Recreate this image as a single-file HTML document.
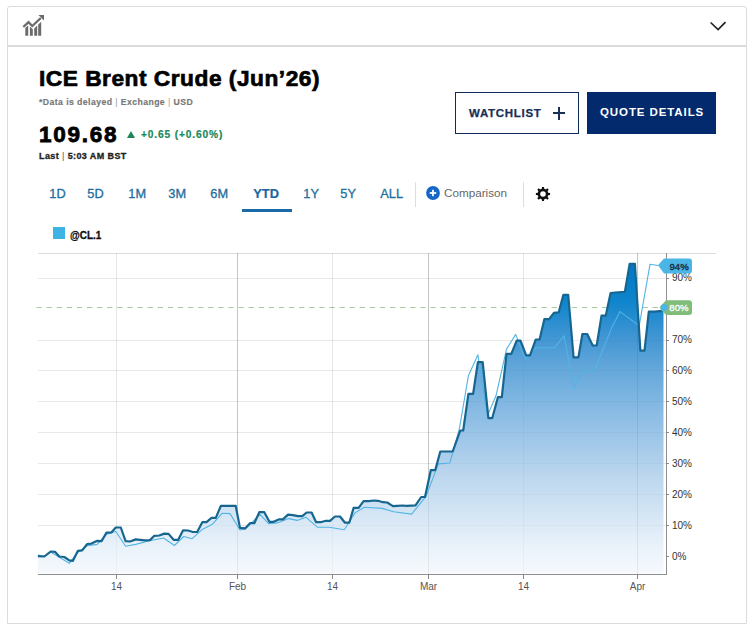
<!DOCTYPE html>
<html><head><meta charset="utf-8">
<style>
*{margin:0;padding:0;box-sizing:border-box}
html,body{width:753px;height:629px;overflow:hidden;background:#fff;font-family:"Liberation Sans",sans-serif}
.card{position:absolute;left:7px;top:6px;width:740px;height:618px;border:1px solid #dcdcdc;border-radius:3px 3px 0 0}
.hdiv{position:absolute;left:8px;top:45px;width:738px;height:2px;background:#dadada}
.abs{position:absolute;white-space:nowrap}
.title{-webkit-text-stroke:0.7px #000;left:39px;top:64.6px;font-size:22.7px;font-weight:bold;color:#000;letter-spacing:0.52px}
.sub{-webkit-text-stroke:0.15px #777;left:39px;top:97px;font-size:8.7px;font-weight:bold;color:#777;letter-spacing:0.42px}
.price{-webkit-text-stroke:0.8px #000;left:39px;top:122px;font-size:22.5px;font-weight:bold;color:#000;letter-spacing:1.75px}
.chg{-webkit-text-stroke:0.2px #1b875a;left:141px;top:129px;font-size:10.2px;font-weight:bold;color:#1b875a;letter-spacing:0.85px}
.tri{left:127px;top:131px;width:0;height:0;border-left:4.5px solid transparent;border-right:4.5px solid transparent;border-bottom:7px solid #1c8659}
.last{-webkit-text-stroke:0.3px #222;left:39px;top:151px;font-size:9px;font-weight:bold;color:#222;letter-spacing:0.4px}
.btn1{left:455px;top:92px;width:124px;height:42px;border:1px solid #0c2b5b}
.btn1 span{position:absolute;left:13px;top:14px;font-size:11.5px;font-weight:bold;color:#1a2f55;letter-spacing:0.7px;-webkit-text-stroke:0.25px #1a2f55}
.plus1{left:553px;top:112px;width:12px;height:2.4px;background:#1a2f55}
.plus2{left:557.8px;top:107px;width:2.4px;height:13px;background:#1a2f55}
.btn2{left:587px;top:92px;width:129px;height:42px;background:#032a6c}
.btn2 span{position:absolute;left:13px;top:14px;font-size:11.5px;font-weight:bold;color:#fff;letter-spacing:0.9px}
.tab{top:186px;margin-left:-0.7px;font-size:12.8px;color:#216e9c;-webkit-text-stroke:0.3px #216e9c}
.ytd{font-weight:bold;color:#1a659e;-webkit-text-stroke:0.2px #1a659e}
.uline{left:242px;top:209px;width:50px;height:3px;background:#1a6aa8}
.sep{top:182px;width:1px;height:25px;background:#dedede}
.cmp{left:444px;top:186px;font-size:11.7px;color:#666}
.leg{left:53px;top:227px;width:12px;height:12px;background:#3db4e4}
.legt{left:70px;top:229.5px;font-size:10px;font-weight:bold;color:#111;-webkit-text-stroke:0.3px #111}
.chart{position:absolute;left:0;top:0}
.bar{font-weight:normal;color:#999;-webkit-text-stroke:0}
.bar2{font-weight:normal;color:#555;-webkit-text-stroke:0}
</style></head><body>
<div class="card"></div>
<div class="hdiv"></div>
<svg class="abs" style="left:0;top:0" width="753" height="50" viewBox="0 0 753 50">
<g fill="#6b6b6b">
<polygon points="25.3,27.9 28.2,25.2 28.2,35.8 25.3,35.8"/>
<polygon points="29.9,26.4 32.8,29.2 32.8,35.8 29.9,35.8"/>
<polygon points="34.2,28.4 37.2,25.6 37.2,35.8 34.2,35.8"/>
<polygon points="38.2,24.6 41.2,21.8 41.2,35.8 38.2,35.8"/>
</g>
<polyline points="23.3,27 28.5,22.2 32.3,26 40.8,18" fill="none" stroke="#6b6b6b" stroke-width="2.3"/>
<polygon points="38.4,15 44,15 44,20.6" fill="#6b6b6b"/>
<polyline points="710.6,22.5 718.1,29.6 725.5,22.2" fill="none" stroke="#222" stroke-width="1.7"/>
</svg>
<div class="abs title">ICE Brent Crude (Jun’26)</div>
<div class="abs sub">*Data is delayed <span class="bar">|</span> Exchange <span class="bar">|</span> USD</div>
<div class="abs price">109.68</div>
<div class="abs tri"></div>
<div class="abs chg">+0.65 (+0.60%)</div>
<div class="abs last">Last <span class="bar2">|</span> 5:03 AM BST</div>
<div class="abs btn1"><span>WATCHLIST</span></div>
<div class="abs plus1"></div><div class="abs plus2"></div>
<div class="abs btn2"><span>QUOTE DETAILS</span></div>
<div class="abs tab" style="left:50px">1D</div>
<div class="abs tab" style="left:88px">5D</div>
<div class="abs tab" style="left:129px">1M</div>
<div class="abs tab" style="left:169px">3M</div>
<div class="abs tab" style="left:211px">6M</div>
<div class="abs tab ytd" style="left:254px">YTD</div>
<div class="abs tab" style="left:304px">1Y</div>
<div class="abs tab" style="left:341px">5Y</div>
<div class="abs tab" style="left:381px">ALL</div>
<div class="abs uline"></div>
<div class="abs sep" style="left:415px"></div>
<svg class="abs" style="left:425px;top:185px" width="16" height="16" viewBox="0 0 16 16"><circle cx="8" cy="8" r="6.9" fill="#1768c6"/><rect x="4.8" y="7.1" width="6.4" height="1.8" fill="#fff"/><rect x="7.1" y="4.8" width="1.8" height="6.4" fill="#fff"/></svg>
<div class="abs cmp">Comparison</div>
<div class="abs sep" style="left:523px"></div>
<svg class="abs" style="left:535px;top:185.8px" width="16" height="16" viewBox="0 0 16 16">
<g transform="translate(8,8)">
<circle r="4.1" fill="none" stroke="#111" stroke-width="2.6"/>
<g fill="#111">
<polygon points="-1.3,-4.5 1.3,-4.5 1.0,-7.1 -1.0,-7.1"/>
<polygon points="-1.3,-4.5 1.3,-4.5 1.0,-7.1 -1.0,-7.1" transform="rotate(45)"/>
<polygon points="-1.3,-4.5 1.3,-4.5 1.0,-7.1 -1.0,-7.1" transform="rotate(90)"/>
<polygon points="-1.3,-4.5 1.3,-4.5 1.0,-7.1 -1.0,-7.1" transform="rotate(135)"/>
<polygon points="-1.3,-4.5 1.3,-4.5 1.0,-7.1 -1.0,-7.1" transform="rotate(180)"/>
<polygon points="-1.3,-4.5 1.3,-4.5 1.0,-7.1 -1.0,-7.1" transform="rotate(225)"/>
<polygon points="-1.3,-4.5 1.3,-4.5 1.0,-7.1 -1.0,-7.1" transform="rotate(270)"/>
<polygon points="-1.3,-4.5 1.3,-4.5 1.0,-7.1 -1.0,-7.1" transform="rotate(315)"/>
</g></g></svg>
<div class="abs leg"></div>
<div class="abs legt">@CL.1</div>
<svg class="chart" width="753" height="629" viewBox="0 0 753 629">
<defs><linearGradient id="g" gradientUnits="userSpaceOnUse" x1="0" y1="264" x2="0" y2="574">
<stop offset="0" stop-color="rgb(5,118,198)"/>
<stop offset="0.116" stop-color="rgb(13,132,204)"/>
<stop offset="0.239" stop-color="rgb(66,150,212)"/>
<stop offset="0.342" stop-color="rgb(101,168,218)"/>
<stop offset="0.461" stop-color="rgb(133,185,227)"/>
<stop offset="0.687" stop-color="rgb(188,215,238)"/>
<stop offset="0.913" stop-color="rgb(234,242,250)"/>
<stop offset="1" stop-color="rgb(246,249,253)"/>
</linearGradient></defs>
<line x1="38" y1="253.5" x2="716" y2="253.5" stroke="#dcdcdc" stroke-width="1"/>
<line x1="36.5" y1="307.5" x2="663" y2="307.5" stroke="#a6cc9e" stroke-width="1" stroke-dasharray="5.3,4.8"/>
<line x1="38" y1="278.5" x2="666" y2="278.5" stroke="#000" stroke-opacity="0.06" stroke-width="1"/><line x1="38" y1="340.5" x2="666" y2="340.5" stroke="#000" stroke-opacity="0.06" stroke-width="1"/><line x1="38" y1="370.5" x2="666" y2="370.5" stroke="#000" stroke-opacity="0.06" stroke-width="1"/><line x1="38" y1="401.5" x2="666" y2="401.5" stroke="#000" stroke-opacity="0.06" stroke-width="1"/><line x1="38" y1="432.5" x2="666" y2="432.5" stroke="#000" stroke-opacity="0.06" stroke-width="1"/><line x1="38" y1="463.5" x2="666" y2="463.5" stroke="#000" stroke-opacity="0.06" stroke-width="1"/><line x1="38" y1="494.5" x2="666" y2="494.5" stroke="#000" stroke-opacity="0.06" stroke-width="1"/><line x1="38" y1="525.5" x2="666" y2="525.5" stroke="#000" stroke-opacity="0.06" stroke-width="1"/><line x1="116.5" y1="253" x2="116.5" y2="574" stroke="#000" stroke-opacity="0.07" stroke-width="1"/><line x1="237.5" y1="253" x2="237.5" y2="574" stroke="#000" stroke-opacity="0.17" stroke-width="1"/><line x1="332.5" y1="253" x2="332.5" y2="574" stroke="#000" stroke-opacity="0.07" stroke-width="1"/><line x1="428.5" y1="253" x2="428.5" y2="574" stroke="#000" stroke-opacity="0.17" stroke-width="1"/><line x1="523.5" y1="253" x2="523.5" y2="574" stroke="#000" stroke-opacity="0.07" stroke-width="1"/><line x1="637.5" y1="253" x2="637.5" y2="574" stroke="#000" stroke-opacity="0.17" stroke-width="1"/>
<path d="M37.9,573.5 L37.9,556.1 L44.3,556.5 L50.7,551.5 L55.0,551.8 L59.3,556.5 L64.3,557.0 L69.3,560.4 L72.9,560.8 L77.9,550.8 L82.2,550.4 L87.2,544.0 L91.5,543.6 L97.2,540.8 L101.5,541.2 L106.5,532.6 L111.5,532.3 L115.8,527.5 L120.8,527.5 L125.6,541.2 L130.0,541.5 L135.7,539.4 L140.0,539.8 L145.0,540.4 L150.0,540.1 L154.3,535.8 L159.3,535.5 L164.3,533.6 L168.6,533.9 L173.6,539.8 L178.2,539.8 L183.0,530.4 L188.0,530.5 L192.2,531.8 L197.2,532.0 L202.3,522.2 L206.5,522.2 L211.5,517.9 L215.8,517.9 L220.9,505.8 L235.7,505.8 L240.0,527.9 L245.0,528.4 L250.0,523.2 L254.3,523.2 L259.3,512.2 L264.3,512.2 L269.4,521.8 L273.6,521.8 L278.7,519.4 L282.9,519.4 L288.0,514.6 L293.0,515.1 L298.0,516.1 L302.3,516.1 L306.6,512.5 L311.6,512.5 L316.1,522.2 L320.7,522.2 L325.7,520.8 L330.0,520.8 L335.0,516.5 L340.0,516.5 L345.0,522.7 L349.3,522.7 L353.6,507.9 L358.6,507.9 L363.6,501.2 L368.6,501.2 L373.7,500.5 L378.0,500.8 L383.0,502.2 L387.2,502.5 L393.0,506.1 L397.3,505.8 L402.3,505.5 L406.6,505.8 L415.5,505.3 L421.2,497.0 L425.0,497.0 L430.8,470.2 L435.2,470.2 L440.3,451.5 L452.7,451.5 L460.3,430.5 L463.2,430.5 L468.4,393.9 L473.1,393.9 L477.9,362.1 L482.7,362.1 L488.4,418.2 L492.2,418.2 L497.9,397.2 L501.8,397.2 L506.5,353.9 L511.3,353.9 L516.7,340.7 L520.5,340.7 L526.2,355.4 L530.0,355.4 L535.8,339.5 L539.6,339.5 L544.4,319.1 L549.1,319.1 L553.9,312.8 L558.7,312.4 L563.4,294.9 L568.2,294.9 L573.6,357.4 L578.4,357.4 L582.4,334.0 L587.2,334.0 L592.7,345.5 L596.7,345.5 L601.5,315.6 L605.8,315.6 L610.6,293.0 L615.3,292.5 L624.9,291.8 L629.7,263.8 L634.9,263.8 L640.4,350.7 L644.5,350.7 L648.8,311.6 L654.7,311.6 L661.9,310.9 L663.5,310.9 L663.5,573.5 Z" fill="url(#g)"/>
<g opacity="0.4"><line x1="38" y1="278.5" x2="666" y2="278.5" stroke="#000" stroke-opacity="0.06" stroke-width="1"/><line x1="38" y1="340.5" x2="666" y2="340.5" stroke="#000" stroke-opacity="0.06" stroke-width="1"/><line x1="38" y1="370.5" x2="666" y2="370.5" stroke="#000" stroke-opacity="0.06" stroke-width="1"/><line x1="38" y1="401.5" x2="666" y2="401.5" stroke="#000" stroke-opacity="0.06" stroke-width="1"/><line x1="38" y1="432.5" x2="666" y2="432.5" stroke="#000" stroke-opacity="0.06" stroke-width="1"/><line x1="38" y1="463.5" x2="666" y2="463.5" stroke="#000" stroke-opacity="0.06" stroke-width="1"/><line x1="38" y1="494.5" x2="666" y2="494.5" stroke="#000" stroke-opacity="0.06" stroke-width="1"/><line x1="38" y1="525.5" x2="666" y2="525.5" stroke="#000" stroke-opacity="0.06" stroke-width="1"/><line x1="116.5" y1="253" x2="116.5" y2="574" stroke="#000" stroke-opacity="0.07" stroke-width="1"/><line x1="237.5" y1="253" x2="237.5" y2="574" stroke="#000" stroke-opacity="0.17" stroke-width="1"/><line x1="332.5" y1="253" x2="332.5" y2="574" stroke="#000" stroke-opacity="0.07" stroke-width="1"/><line x1="428.5" y1="253" x2="428.5" y2="574" stroke="#000" stroke-opacity="0.17" stroke-width="1"/><line x1="523.5" y1="253" x2="523.5" y2="574" stroke="#000" stroke-opacity="0.07" stroke-width="1"/><line x1="637.5" y1="253" x2="637.5" y2="574" stroke="#000" stroke-opacity="0.17" stroke-width="1"/></g>
<polyline points="37.9,555.0 44.3,556.5 50.7,552.0 69.3,563.3 77.9,552.2 87.2,545.8 97.2,544.4 106.5,534.3 115.8,531.5 125.6,546.2 135.7,544.4 149.3,540.8 163.6,538.0 174.4,545.5 183.7,536.5 192.2,538.7 202.3,529.4 212.3,524.3 222.3,513.2 230.0,513.6 240.0,530.0 245.8,528.7 260.0,514.3 268.6,523.6 277.2,522.9 288.7,518.6 297.3,520.4 305.8,517.2 317.3,527.2 329.3,527.2 344.3,529.8 355.0,512.9 364.4,507.2 382.2,508.4 393.7,511.8 411.6,514.1 426.0,496.4 438.4,463.9 449.8,463.0 459.4,428.6 468.4,375.8 477.9,354.8 487.4,415.9 496.0,395.8 506.5,349.1 515.7,334.4 525.3,359.2 535.8,347.7 554.8,347.7 564.0,335.9 574.2,388.7 581.8,370.9 593.9,371.7 611.8,327.6 620.1,311.6 639.2,325.9 650.0,264.3 658.3,265.5" fill="none" stroke="#52b4e4" stroke-width="1.1" stroke-linejoin="round"/>
<polyline points="37.9,556.1 44.3,556.5 50.7,551.5 55.0,551.8 59.3,556.5 64.3,557.0 69.3,560.4 72.9,560.8 77.9,550.8 82.2,550.4 87.2,544.0 91.5,543.6 97.2,540.8 101.5,541.2 106.5,532.6 111.5,532.3 115.8,527.5 120.8,527.5 125.6,541.2 130.0,541.5 135.7,539.4 140.0,539.8 145.0,540.4 150.0,540.1 154.3,535.8 159.3,535.5 164.3,533.6 168.6,533.9 173.6,539.8 178.2,539.8 183.0,530.4 188.0,530.5 192.2,531.8 197.2,532.0 202.3,522.2 206.5,522.2 211.5,517.9 215.8,517.9 220.9,505.8 235.7,505.8 240.0,527.9 245.0,528.4 250.0,523.2 254.3,523.2 259.3,512.2 264.3,512.2 269.4,521.8 273.6,521.8 278.7,519.4 282.9,519.4 288.0,514.6 293.0,515.1 298.0,516.1 302.3,516.1 306.6,512.5 311.6,512.5 316.1,522.2 320.7,522.2 325.7,520.8 330.0,520.8 335.0,516.5 340.0,516.5 345.0,522.7 349.3,522.7 353.6,507.9 358.6,507.9 363.6,501.2 368.6,501.2 373.7,500.5 378.0,500.8 383.0,502.2 387.2,502.5 393.0,506.1 397.3,505.8 402.3,505.5 406.6,505.8 415.5,505.3 421.2,497.0 425.0,497.0 430.8,470.2 435.2,470.2 440.3,451.5 452.7,451.5 460.3,430.5 463.2,430.5 468.4,393.9 473.1,393.9 477.9,362.1 482.7,362.1 488.4,418.2 492.2,418.2 497.9,397.2 501.8,397.2 506.5,353.9 511.3,353.9 516.7,340.7 520.5,340.7 526.2,355.4 530.0,355.4 535.8,339.5 539.6,339.5 544.4,319.1 549.1,319.1 553.9,312.8 558.7,312.4 563.4,294.9 568.2,294.9 573.6,357.4 578.4,357.4 582.4,334.0 587.2,334.0 592.7,345.5 596.7,345.5 601.5,315.6 605.8,315.6 610.6,293.0 615.3,292.5 624.9,291.8 629.7,263.8 634.9,263.8 640.4,350.7 644.5,350.7 648.8,311.6 654.7,311.6 661.9,310.9" fill="none" stroke="#17668f" stroke-width="2.2" stroke-linejoin="round"/>
<line x1="38" y1="574.5" x2="667" y2="574.5" stroke="#8f8f8f" stroke-width="1"/>
<line x1="666.5" y1="253" x2="666.5" y2="575" stroke="#8f8f8f" stroke-width="1"/>
<line x1="666" y1="278.5" x2="669" y2="278.5" stroke="#888" stroke-width="1"/><line x1="666" y1="309.5" x2="669" y2="309.5" stroke="#888" stroke-width="1"/><line x1="666" y1="340.5" x2="669" y2="340.5" stroke="#888" stroke-width="1"/><line x1="666" y1="370.5" x2="669" y2="370.5" stroke="#888" stroke-width="1"/><line x1="666" y1="401.5" x2="669" y2="401.5" stroke="#888" stroke-width="1"/><line x1="666" y1="432.5" x2="669" y2="432.5" stroke="#888" stroke-width="1"/><line x1="666" y1="463.5" x2="669" y2="463.5" stroke="#888" stroke-width="1"/><line x1="666" y1="494.5" x2="669" y2="494.5" stroke="#888" stroke-width="1"/><line x1="666" y1="525.5" x2="669" y2="525.5" stroke="#888" stroke-width="1"/><line x1="666" y1="556.5" x2="669" y2="556.5" stroke="#888" stroke-width="1"/><line x1="116.5" y1="574" x2="116.5" y2="579" stroke="#888" stroke-width="1"/><line x1="237.5" y1="574" x2="237.5" y2="579" stroke="#888" stroke-width="1"/><line x1="332.5" y1="574" x2="332.5" y2="579" stroke="#888" stroke-width="1"/><line x1="428.5" y1="574" x2="428.5" y2="579" stroke="#888" stroke-width="1"/><line x1="523.5" y1="574" x2="523.5" y2="579" stroke="#888" stroke-width="1"/><line x1="637.5" y1="574" x2="637.5" y2="579" stroke="#888" stroke-width="1"/>
<g font-family="Liberation Sans, sans-serif" font-size="10" fill="#333"><text x="672" y="281.3">90%</text><text x="672" y="343.1">70%</text><text x="672" y="374.0">60%</text><text x="672" y="404.9">50%</text><text x="672" y="435.9">40%</text><text x="672" y="466.8">30%</text><text x="672" y="497.7">20%</text><text x="672" y="528.6">10%</text><text x="672" y="559.5">0%</text></g>
<g font-family="Liberation Sans, sans-serif" font-size="10" fill="#555"><text x="116.5" y="590.2" text-anchor="middle">14</text><text x="237.5" y="590.2" text-anchor="middle">Feb</text><text x="332.5" y="590.2" text-anchor="middle">14</text><text x="428.5" y="590.2" text-anchor="middle">Mar</text><text x="523.5" y="590.2" text-anchor="middle">14</text><text x="637.5" y="590.2" text-anchor="middle">Apr</text></g>
<path d="M658,265.3 L664,258.5 L689,258.5 Q692,258.5 692,261.5 L692,270.5 Q692,273.5 689,273.5 L664,273.5 Z" fill="#4bb5e6"/>
<text x="669.5" y="269.6" font-family="Liberation Sans, sans-serif" font-size="9.6" fill="#16293a" stroke="#16293a" stroke-width="0.35">94%</text>
<path d="M659.5,307.5 L666,300.2 L689,300.2 Q692,300.2 692,303.2 L692,312 Q692,315 689,315 L666,315 Z" fill="#80bd7b"/>
<circle cx="664" cy="307.4" r="3.5" fill="#4bb5e6"/>
<text x="669.3" y="310.9" font-family="Liberation Sans, sans-serif" font-size="9.6" fill="#fff" stroke="#fff" stroke-width="0.3">80%</text>
</svg>
</body></html>
